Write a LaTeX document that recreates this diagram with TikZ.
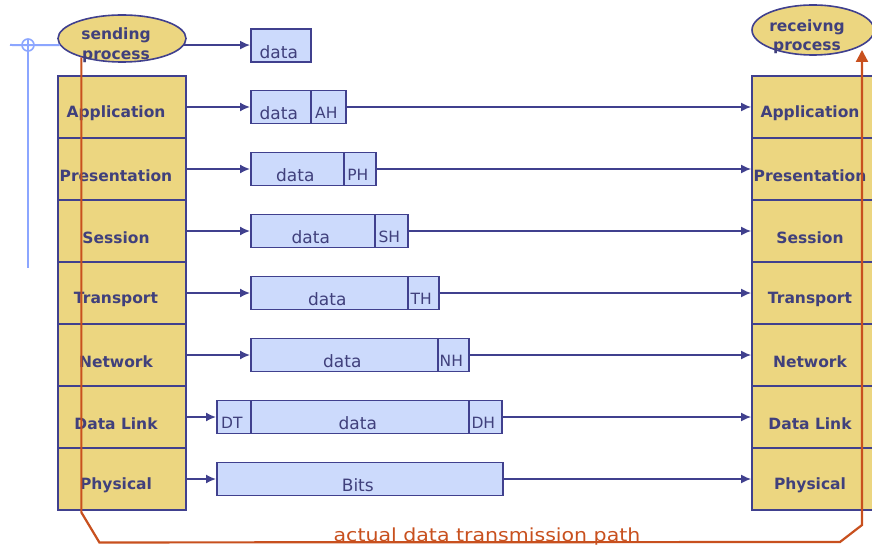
\documentclass[tikz,border=0pt]{standalone}
\usepackage{fontspec}
\usepackage{graphicx}
\setmainfont{DejaVu Sans}
\usetikzlibrary{arrows.meta,shapes.geometric}
\definecolor{layerfill}{HTML}{ECD680}
\definecolor{navy}{HTML}{40408E}
\definecolor{pdufill}{HTML}{CCDAFC}
\definecolor{labelc}{HTML}{40407C}
\definecolor{pathred}{HTML}{C8501E}
\definecolor{guide}{HTML}{8CA6FF}
\begin{document}
\begin{tikzpicture}[x=1pt,y=-1pt,
  layer/.style={draw=navy,fill=layerfill,line width=1.8pt,minimum width=128pt,minimum height=62pt,inner sep=0pt},
  proc/.style={ellipse,draw=navy,fill=layerfill,line width=1.6pt,inner sep=0pt},
  pdu/.style={draw=navy,fill=pdufill,line width=1.6pt,minimum height=33pt,inner sep=0pt,anchor=west},
  ltxt/.style={font=\fontsize{15.5}{19.5}\selectfont\bfseries,text=labelc,inner sep=0pt,xshift=-6pt,yshift=-6.5pt,align=center},
  ptxt/.style={font=\fontsize{17}{19}\selectfont,text=labelc,inner sep=0pt,xshift=-2pt,yshift=-6.5pt},
  htxt/.style={font=\fontsize{15.5}{19}\selectfont,text=labelc,inner sep=0pt,xshift=-2pt,yshift=-6pt},
  conn/.style={draw=navy,line width=1.6pt,-{Latex[length=10pt,width=9pt]}},
  tx/.style={draw=pathred,line width=2.2pt},
  guideline/.style={draw=guide,line width=2pt}]
\clip (0,0) rectangle (872,548);
\fill[white] (0,0) rectangle (872,548);

% end-system processes
\node[proc,minimum width=128pt,minimum height=47pt,label={[ltxt]center:sending\\process}] (S) at (122,38.5) {};
\node[proc,minimum width=122pt,minimum height=50pt,label={[ltxt]center:receivng\\process}] (R) at (813,30) {};

% protocol stacks
\foreach \t [count=\i] in {Application,Presentation,Session,Transport,Network,Data Link,Physical}{
  \node[layer,label={[ltxt]center:\t}] (L\i) at (122,{45+62*\i}) {};
  \node[layer,label={[ltxt]center:\t}] (R\i) at (816,{45+62*\i}) {};
}

% data units
\node[pdu,minimum width=60pt,label={[ptxt]center:data}] (D0) at (250,45.5) {};
\node[pdu,minimum width=60pt,label={[ptxt]center:data}] (D1) at (250,107) {};
\node[pdu,minimum width=35pt,label={[htxt]center:AH}] (H1) at (310,107) {};
\node[pdu,minimum width=93pt,label={[ptxt]center:data}] (D2) at (250,169) {};
\node[pdu,minimum width=32pt,label={[htxt]center:PH}] (H2) at (343,169) {};
\node[pdu,minimum width=124pt,label={[ptxt]center:data}] (D3) at (250,231) {};
\node[pdu,minimum width=33pt,label={[htxt]center:SH}] (H3) at (374,231) {};
\node[pdu,minimum width=157pt,label={[ptxt]center:data}] (D4) at (250,293) {};
\node[pdu,minimum width=31pt,label={[htxt]center:TH}] (H4) at (407,293) {};
\node[pdu,minimum width=187pt,label={[ptxt]center:data}] (D5) at (250,355) {};
\node[pdu,minimum width=31pt,label={[htxt]center:NH}] (H5) at (437,355) {};
\node[pdu,minimum width=34pt,label={[htxt]center:DT}] (T6) at (216,417) {};
\node[pdu,minimum width=218pt,label={[ptxt]center:data}] (D6) at (250,417) {};
\node[pdu,minimum width=33pt,label={[htxt]center:DH}] (H6) at (468,417) {};
\node[pdu,minimum width=286pt,label={[ptxt]center:Bits}] (B7) at (216,479) {};

% peer connections
\draw[conn] (S.-6) -- (S.-6 -| D0.west);
\draw[conn] (L1) -- (D1);
\draw[conn] (H1) -- (R1);
\draw[conn] (L2) -- (D2);
\draw[conn] (H2) -- (R2);
\draw[conn] (L3) -- (D3);
\draw[conn] (H3) -- (R3);
\draw[conn] (L4) -- (D4);
\draw[conn] (H4) -- (R4);
\draw[conn] (L5) -- (D5);
\draw[conn] (H5) -- (R5);
\draw[conn] (L6) -- (T6);
\draw[conn] (H6) -- (R6);
\draw[conn] (L7) -- (B7);
\draw[conn] (B7) -- (R7);

% guide marker at the left
\coordinate (g1) at (28,40);
\coordinate (g2) at (28,268);
\coordinate (g3) at (10,45);
\draw[guideline] (g3) -- (S.186);
\draw[guideline] (g1) -- (g2);
\draw[draw=guide,line width=1.6pt] (28,45) circle (6pt);

% actual transmission path
\coordinate (t1) at (840,542);
\coordinate (t2) at (862,525);
\coordinate (t3) at (862,50);
\draw[tx,-{Triangle[length=12pt,width=12pt]}] (S.205) -- ++(0,455) -- ++(18,30) -- (t1) -- (t2) -- (t3);
\node[font=\fontsize{18}{20}\selectfont,text=pathred,anchor=base,inner sep=0pt] (tl) at (487,541) {\scalebox{1.14}[1]{actual data transmission path}};
\end{tikzpicture}
\end{document}
